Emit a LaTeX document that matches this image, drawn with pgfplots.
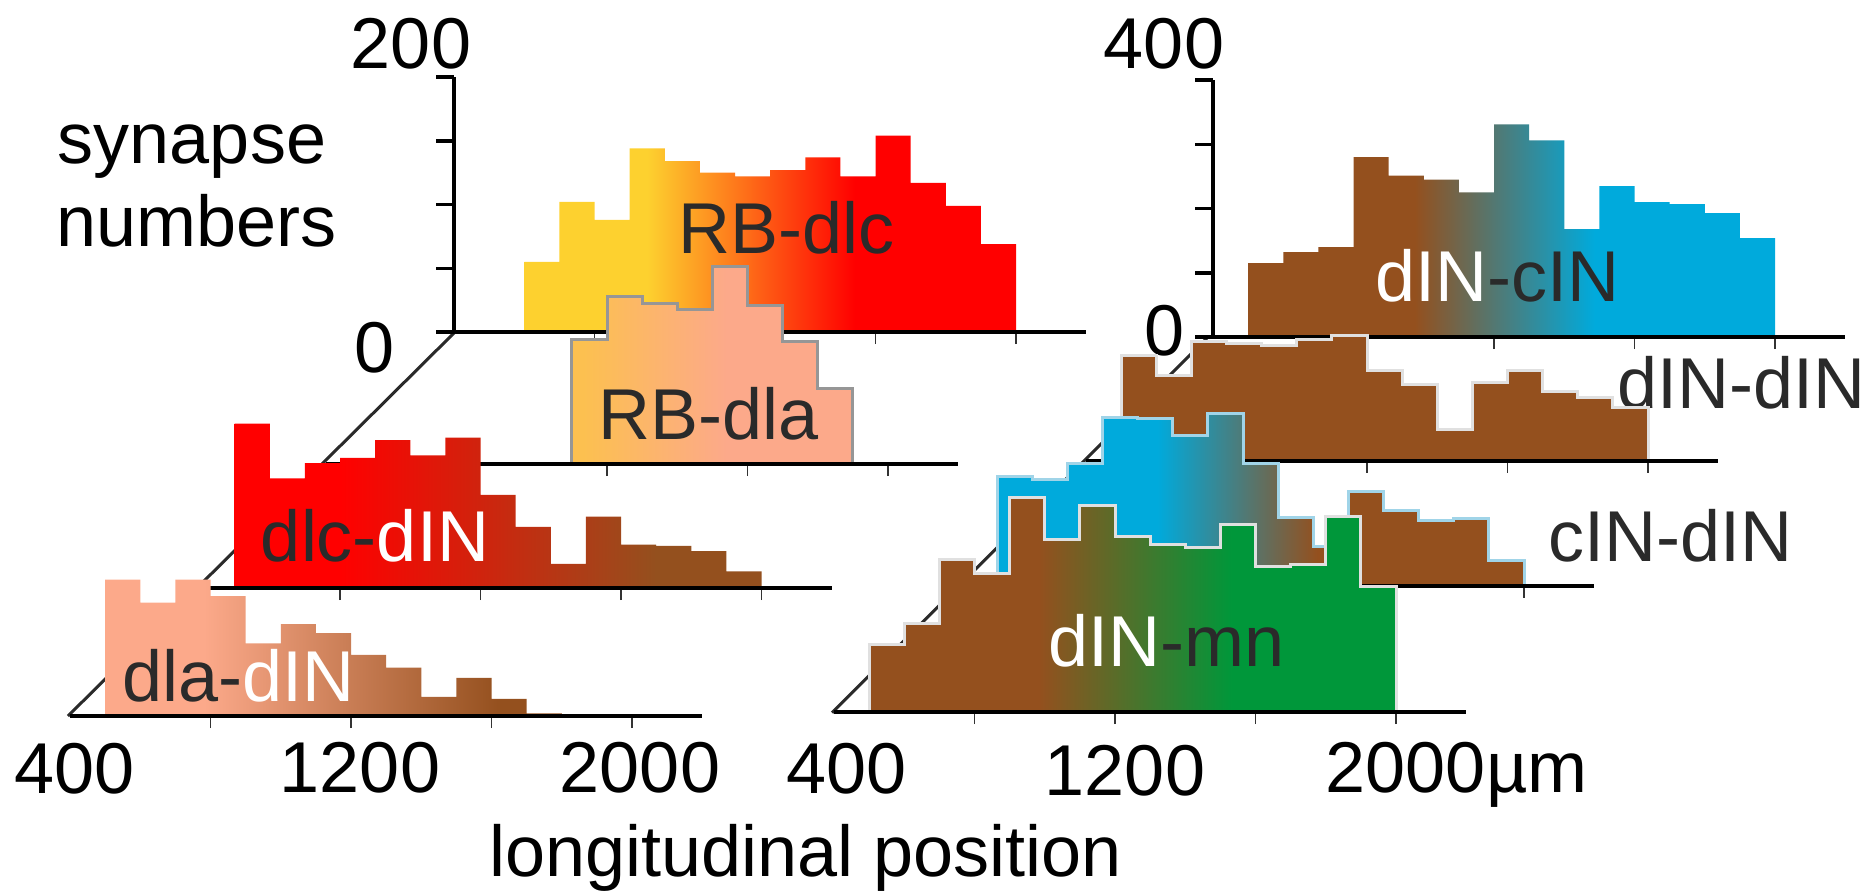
\documentclass[border=0pt]{standalone}
\usepackage{fontspec}
\setmainfont{Liberation Sans}
\usepackage{pgfplots}
\pgfplotsset{compat=1.18}

\definecolor{cYellow}{RGB}{253,209,47}
\definecolor{cRed}{RGB}{255,0,0}
\definecolor{cSalmon}{RGB}{252,169,138}
\definecolor{cApricot}{RGB}{252,192,80}
\definecolor{cBrown}{RGB}{148,80,30}
\definecolor{cBlue}{RGB}{0,170,220}
\definecolor{cGreen}{RGB}{0,151,58}
\definecolor{cText}{RGB}{42,42,42}
\definecolor{cOutGray}{RGB}{150,150,150}
\definecolor{cOutLight}{RGB}{224,224,224}
\definecolor{cOutBlue}{RGB}{160,212,232}

% horizontal colour ramps; the bars' extent maps onto 25bp..75bp
\pgfdeclarehorizontalshading{rbdlc}{100bp}{color(0bp)=(cYellow); color(37.5bp)=(cYellow); color(58.6bp)=(cRed); color(100bp)=(cRed)}
\pgfdeclarehorizontalshading{rbdla}{100bp}{color(0bp)=(cApricot); color(27bp)=(cApricot); color(52.5bp)=(cSalmon); color(100bp)=(cSalmon)}
\pgfdeclarehorizontalshading{dlcdin}{100bp}{color(0bp)=(cRed); color(35bp)=(cRed); color(65bp)=(cBrown); color(100bp)=(cBrown)}
\pgfdeclarehorizontalshading{dladin}{100bp}{color(0bp)=(cSalmon); color(35.8bp)=(cSalmon); color(68.3bp)=(cBrown); color(100bp)=(cBrown)}
\pgfdeclarehorizontalshading{dincin}{100bp}{color(0bp)=(cBrown); color(40.8bp)=(cBrown); color(57.9bp)=(cBlue); color(100bp)=(cBlue)}
\pgfdeclarehorizontalshading{cindin}{100bp}{color(0bp)=(cBlue); color(40.2bp)=(cBlue); color(55.4bp)=(cBrown); color(100bp)=(cBrown)}
\pgfdeclarehorizontalshading{dinmn}{100bp}{color(0bp)=(cBrown); color(41.1bp)=(cBrown); color(59.4bp)=(cGreen); color(100bp)=(cGreen)}

\pgfplotsset{
  layer/.style={
    anchor=south west, x=0.3513pt, xmin=400, xmax=2200, ymin=0,
    enlargelimits=false, clip=false, axis on top,
    axis x line=bottom, axis y line=none,
    axis line style={-}, x axis line style={-, line width=4pt, black},
    xtick={800,1200,1600,2000}, xticklabels={}, ytick=\empty,
    tick align=outside, major tick length=12pt,
    tick style={line width=1.8pt, black!80},
  },
  leftlayer/.style={layer, y=1.275pt, ymax=200},
  rightlayer/.style={layer, y=0.6425pt, ymax=400},
  yonly/.style={
    anchor=south west, x=0.3513pt, xmin=400, xmax=2200, ymin=0,
    enlargelimits=false, clip=false,
    axis x line=none, axis y line=left, xtick=\empty,
    axis line style={-}, y axis line style={-, line width=4pt, black},
    yticklabels={}, tick align=outside, major tick length=18pt,
    tick style={line width=3.5pt, black},
  },
  hist/.style={const plot, mark=none, forget plot},
}

\begin{document}
\begin{tikzpicture}[every node/.style={inner sep=0pt, font=\fontsize{72}{86}\selectfont}]
\useasboundingbox (0,0) rectangle (1873pt,-892pt);

% ---------------- left group ----------------
\draw[line width=3pt, cText] (455pt,-332pt) -- (68pt,-716pt);

% RB-dlc (back)
\begin{axis}[leftlayer, at={(454pt,-332pt)}]
  \addplot[hist, draw=none, shading=rbdlc] coordinates {
    (600,55) (700,102) (800,88) (900,144) (1000,134) (1100,125) (1200,122)
    (1300,127) (1400,137) (1500,122) (1600,154) (1700,117) (1800,99) (1900,69) (2000,69)
  } \closedcycle;
\end{axis}
\begin{axis}[yonly, y=1.275pt, ymax=200, ytick={0,50,100,150,200}, at={(454pt,-332pt)}]
\end{axis}
\node[anchor=base, cText] at (786.5pt,-253pt) {RB-dlc};
\node[anchor=base] at (411pt,-68pt) {200};
\node[anchor=base] at (375pt,-372pt) {0};
\node[anchor=base] at (192pt,-163pt) {synapse};
\node[anchor=base] at (196.5pt,-246.7pt) {numbers};

% RB-dla
\begin{axis}[leftlayer, at={(326pt,-464pt)}]
  \addplot[hist, draw=cOutGray, line width=3pt, shading=rbdla] coordinates {
    (1100,98) (1200,131) (1300,126) (1400,121) (1500,155) (1600,124) (1700,96) (1800,59) (1900,59)
  } \closedcycle;
\end{axis}
\node[anchor=base, cText] at (709pt,-439.3pt) {RB-dla};

% dlc-dIN
\begin{axis}[leftlayer, at={(199.5pt,-588pt)}]
  \addplot[hist, draw=none, shading=dlcdin] coordinates {
    (500,129) (600,86) (700,98) (800,102) (900,116) (1000,104) (1100,118) (1200,73)
    (1300,48) (1400,19) (1500,56) (1600,34) (1700,33) (1800,29) (1900,13) (2000,13)
  } \closedcycle;
\end{axis}
\node[anchor=base] at (375pt,-561.7pt) {\textcolor{cText}{dlc-}\textcolor{white}{dIN}};

% dla-dIN (front)
\begin{axis}[leftlayer, at={(70pt,-716pt)}]
  \addplot[hist, draw=none, shading=dladin] coordinates {
    (500,107) (600,89) (700,107) (800,94) (900,57) (1000,72) (1100,65) (1200,48)
    (1300,38) (1400,15) (1500,30) (1600,13.5) (1700,2) (1800,2)
  } \closedcycle;
\end{axis}
\node[anchor=base] at (238.3pt,-701.7pt) {\textcolor{cText}{dla-}\textcolor{white}{dIN}};

\node[anchor=base] at (75pt,-793pt) {400};
\node[anchor=base] at (360pt,-792pt) {1200};
\node[anchor=base] at (640pt,-792pt) {2000};

% ---------------- right group ----------------
\draw[line width=3pt, cText] (1208pt,-337pt) -- (832pt,-712.7pt);

% dIN-cIN (back)
\begin{axis}[rightlayer, at={(1213pt,-337pt)}]
  \addplot[hist, draw=none, shading=dincin] coordinates {
    (500,115) (600,132) (700,140) (800,280) (900,251) (1000,245) (1100,225) (1200,331)
    (1300,306) (1400,168) (1500,235) (1600,210) (1700,207) (1800,193) (1900,154) (2000,154)
  } \closedcycle;
\end{axis}
\begin{axis}[yonly, y=0.6425pt, ymax=400, ytick={0,100,200,300,400}, at={(1213pt,-337pt)}]
\end{axis}
\node[anchor=base] at (1497.3pt,-301.7pt) {\textcolor{white}{dIN}\textcolor{cText}{-cIN}};
\node[anchor=base] at (1164pt,-68pt) {400};
\node[anchor=base] at (1165pt,-355pt) {0};
\node[anchor=base, cText] at (1741.7pt,-408.3pt) {dIN-dIN};

% dIN-dIN
\begin{axis}[rightlayer, at={(1086pt,-460.5pt)}]
  \addplot[hist, draw=cOutLight, line width=3pt, fill=cBrown] coordinates {
    (500,163) (600,132) (700,186) (800,182) (900,179) (1000,189) (1100,195) (1200,140)
    (1300,118) (1400,48) (1500,121) (1600,140) (1700,107) (1800,98) (1900,83) (2000,83)
  } \closedcycle;
\end{axis}

% cIN-dIN
\begin{axis}[rightlayer, at={(962pt,-585.5pt)}]
  \addplot[hist, draw=cOutBlue, line width=3pt, shading=cindin] coordinates {
    (500,169) (600,165) (700,190) (800,261) (900,260) (1000,234) (1100,267) (1200,190)
    (1300,106) (1400,60) (1500,146) (1600,117) (1700,101) (1800,104) (1900,39) (2000,39)
  } \closedcycle;
\end{axis}
\node[anchor=base, cText] at (1670.8pt,-561.7pt) {cIN-dIN};

% dIN-mn (front)
\begin{axis}[rightlayer, at={(834pt,-712pt)}]
  \addplot[hist, draw=cOutLight, line width=3pt, shading=dinmn] coordinates {
    (500,105) (600,137) (700,238) (800,215) (900,334) (1000,269) (1100,322) (1200,273)
    (1300,261) (1400,256) (1500,292) (1600,226) (1700,229) (1800,304) (1900,195) (2000,195)
  } \closedcycle;
\end{axis}
\node[anchor=base] at (1166.7pt,-666.7pt) {\textcolor{white}{dIN}\textcolor{cText}{-mn}};

\node[anchor=base] at (846.7pt,-793pt) {400};
\node[anchor=base] at (1125pt,-795pt) {1200};
\node[anchor=base] at (1456.7pt,-792pt) {2000µm};

\node[anchor=base] at (805.8pt,-876.7pt) {longitudinal position};
\end{tikzpicture}
\end{document}
